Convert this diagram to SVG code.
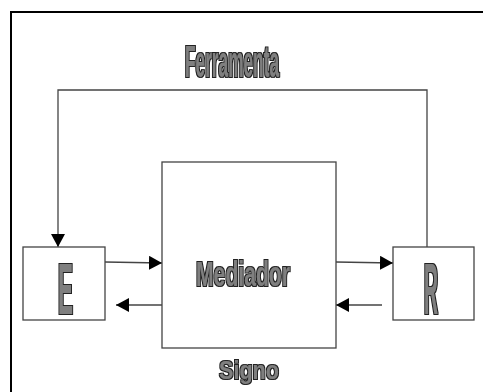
<svg xmlns="http://www.w3.org/2000/svg" width="483" height="392" viewBox="0 0 483 392">
  <style>
    .box { fill: #ffffff; stroke: #444444; stroke-width: 1.3; }
    .line { fill: none; stroke: #444444; stroke-width: 1.3; }
    .lbl { font-family: "Liberation Sans", Arial, sans-serif; font-weight: bold; fill: #7f7f7f; filter: url(#heavy); }
  </style>
  <defs>
    <marker id="arrow" viewBox="0 0 13 14" refX="13" refY="7" markerWidth="13" markerHeight="14" markerUnits="userSpaceOnUse" orient="auto">
      <path d="M0,0 L13,7 L0,14 Z" fill="#000000"/>
    </marker>
    <!-- gives the glyphs a thin dark outline -->
    <filter id="heavy" x="-20%" y="-20%" width="140%" height="140%">
      <feMorphology in="SourceAlpha" operator="dilate" radius="0.9" result="outer"/>
      <feFlood flood-color="#222222" result="ink"/>
      <feComposite in="ink" in2="outer" operator="in" result="outline"/>
      <feMerge>
        <feMergeNode in="outline"/>
        <feMergeNode in="SourceGraphic"/>
      </feMerge>
    </filter>
  </defs>

  <rect width="483" height="392" fill="#ffffff"/>
  <!-- outer frame -->
  <path d="M11,400 L11,12 L490,12" fill="none" stroke="#000000" stroke-width="2"/>

  <g id="connectors">
    <!-- tool loop: R up, across, down to E -->
    <path class="line" d="M427,247 L427,90 L58,90 L58,247" marker-end="url(#arrow)"/>
    <line class="line" x1="105" y1="262" x2="162" y2="263" marker-end="url(#arrow)"/>
    <line class="line" x1="162" y1="305" x2="116" y2="305" marker-end="url(#arrow)"/>
    <line class="line" x1="336" y1="262" x2="393" y2="263" marker-end="url(#arrow)"/>
    <line class="line" x1="382" y1="305" x2="336" y2="305" marker-end="url(#arrow)"/>
  </g>

  <g id="label-ferramenta">
    <text class="lbl" x="185" y="77" font-size="44" textLength="94" lengthAdjust="spacingAndGlyphs">Ferramenta</text>
  </g>

  <g id="node-e">
    <rect class="box" x="23" y="247" width="82" height="73"/>
    <text class="lbl" x="58" y="314" font-size="73" textLength="15" lengthAdjust="spacingAndGlyphs">E</text>
  </g>

  <g id="node-mediador">
    <rect class="box" x="162" y="162" width="174" height="186"/>
    <text class="lbl" x="196" y="286" font-size="35" textLength="94" lengthAdjust="spacingAndGlyphs">Mediador</text>
  </g>

  <g id="node-r">
    <rect class="box" x="393" y="247" width="81" height="73"/>
    <text class="lbl" x="424" y="314" font-size="73" textLength="14" lengthAdjust="spacingAndGlyphs">R</text>
  </g>

  <g id="label-signo">
    <text class="lbl" x="219" y="379" font-size="25" textLength="60" lengthAdjust="spacingAndGlyphs">Signo</text>
  </g>
</svg>
